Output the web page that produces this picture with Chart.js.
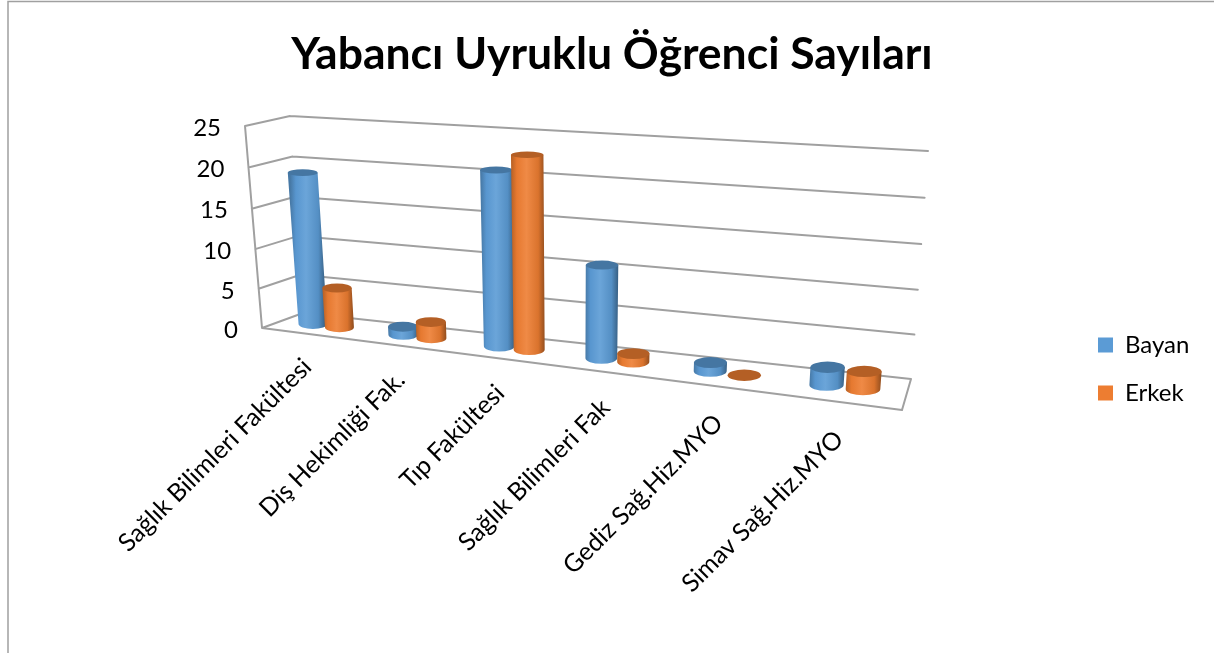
<!DOCTYPE html>
<html lang="tr">
<head>
<meta charset="utf-8">
<style>html,body{margin:0;padding:0;background:#fff}canvas{display:block}</style>
<script src="https://cdn.jsdelivr.net/npm/chart.js@4/dist/chart.umd.min.js"></script>
</head>
<body>
<canvas id="c" width="1214" height="653"></canvas>
<script>
const categories = ["Sağlık Bilimleri Fakültesi","Diş Hekimliği Fak.","Tıp Fakültesi","Sağlık Bilimleri Fak","Gediz Sağ.Hiz.MYO","Simav Sağ.Hiz.MYO"];
const bayan = [19,1,21,11,1,2];
const erkek = [5,2,23,1,0,2];
const chartTitle = "Yabancı Uyruklu Öğrenci Sayıları";
const seriesNames = ["Bayan","Erkek"];
const seriesColors = ["#5b9bd5","#ed7d31"];

const FONT = "Lato, Carlito, sans-serif";
const GRID = "#a0a0a0";
// 3D box of the plot: front/back, left/right, floor(0)/top(1)
const BOX = {fl0:[262,328],fl1:[245,126],bl0:[303,313],bl1:[290,116],
             fr0:[902,410],fr1:[920,173],br0:[911,379],br1:[928,151]};
const PERSP = 1.21;
let activeChart = null;
const mix = (a,b,k)=>a+(b-a)*k;
const mix2 = (p,q,k)=>[mix(p[0],q[0],k),mix(p[1],q[1],k)];
function project(t,v,d){
  const L = mix2(mix2(BOX.fl0,BOX.fl1,v),mix2(BOX.bl0,BOX.bl1,v),d);
  const R = mix2(mix2(BOX.fr0,BOX.fr1,v),mix2(BOX.br0,BOX.br1,v),d);
  const s = t/(t+(1-t)*PERSP);
  const p = mix2(L,R,s);
  return [p[0],p[1]+2*Math.sin(Math.PI*v)];
}
function shade(hex,f){
  const n=parseInt(hex.slice(1),16);
  const c=[n>>16&255,n>>8&255,n&255].map(x=>Math.max(0,Math.min(255,Math.round(f>1?x+(255-x)*(f-1):x*f))));
  return `rgb(${c[0]},${c[1]},${c[2]})`;
}
function unit(chart,px,py){
  const a=chart.chartArea;
  return [(px-a.left)/(a.right-a.left),(a.bottom-py)/(a.bottom-a.top)];
}

// cylinders: each bar element is drawn from its own scale-derived x / y / base / width
Chart.BarElement.prototype.draw = function(ctx){
  const {x,y,width} = this.getProps(['x','y','width'],false);
  const chart = activeChart;
  const col = this.options.backgroundColor;
  const [t,v] = unit(chart,x,y);
  const dt = (width/2)/(chart.chartArea.right-chart.chartArea.left);
  const grow = 1.1-.17*t;
  const rxAt = vv => (project(t+dt,vv,.5)[0]-project(t-dt,vv,.5)[0])/2*grow;
  const B = project(t,0,.5), T = project(t,v,.5);
  const rb = rxAt(0), rt = rxAt(v);
  const ryb = rb*.34, ryt = rt*(.34-.15*v);
  ctx.save();
  if(v>0){
    const lean=(B[0]+T[0])/2, r=Math.max(rb,rt)+Math.abs(B[0]-T[0])/4;
    const g=ctx.createLinearGradient(lean-r,0,lean+r,0);
    g.addColorStop(0,shade(col,.78));
    g.addColorStop(.16,shade(col,.97));
    g.addColorStop(.45,shade(col,1.1));
    g.addColorStop(.8,shade(col,.92));
    g.addColorStop(1,shade(col,.62));
    ctx.fillStyle=g;
    ctx.beginPath();
    ctx.moveTo(T[0]-rt,T[1]);
    ctx.lineTo(B[0]-rb,B[1]);
    ctx.ellipse(B[0],B[1],rb,ryb,0,Math.PI,0,true);
    ctx.lineTo(T[0]+rt,T[1]);
    ctx.closePath();
    ctx.fill();
  }
  ctx.fillStyle=shade(col,.76);
  ctx.beginPath();
  ctx.ellipse(T[0],T[1],rt,ryt,0,0,Math.PI*2);
  ctx.fill();
  ctx.restore();
};

class SlantCategory extends Chart.CategoryScale{
  _computeLabelItems(ca){
    const items=super._computeLabelItems(ca);
    const a=this.chart.chartArea;
    items.forEach((it,i)=>{
      const t=(this.getPixelForTick(i)-a.left)/(a.right-a.left);
      const p=project(t,0,0);
      it.options.translation=[p[0]-10,p[1]+18+5*t];
    });
    return items;
  }
}
SlantCategory.id='slantCategory';
SlantCategory.defaults=Chart.CategoryScale.defaults;

class SlantLinear extends Chart.LinearScale{
  _computeLabelItems(ca){
    const items=super._computeLabelItems(ca);
    const a=this.chart.chartArea;
    items.forEach((it,i)=>{
      const v=(a.bottom-this.getPixelForTick(i))/(a.bottom-a.top);
      const p=project(0,v,0);
      it.options.translation=[p[0]-24,p[1]+2];
    });
    return items;
  }
}
SlantLinear.id='slantLinear';
SlantLinear.defaults=Chart.LinearScale.defaults;
Chart.register(SlantCategory,SlantLinear);

const frame3d={
  id:'frame3d',
  beforeLayout(chart){
    const lg=chart.legend;
    if(lg && !lg.__wrapped){
      const f=lg.fit;
      lg.fit=function(){f.call(this);this.width=312;};
      lg.__wrapped=true;
    }
  },
  afterLayout(chart){
    const lg=chart.legend;
    lg.left=1074;lg.right=1214;lg.top=309;lg.bottom=640;
    chart.titleBlock.left=10;chart.titleBlock.right=1214;
  },
  beforeDraw(chart){
    const c=chart.ctx;
    c.save();
    c.strokeStyle=GRID;c.lineWidth=1.5;
    c.beginPath();c.moveTo(8,653);c.lineTo(8,1.5);c.lineTo(1214,1.5);c.stroke();
    c.restore();
  },
  beforeDatasetsDraw(chart){
    activeChart=chart;
    const c=chart.ctx, ys=chart.scales.y;
    const seg=(a,b)=>{c.moveTo(a[0],a[1]);c.lineTo(b[0],b[1]);};
    c.save();
    c.strokeStyle=GRID;c.lineWidth=2;c.lineCap='round';c.beginPath();
    ys.ticks.forEach(tk=>{
      const v=(tk.value-ys.min)/(ys.max-ys.min);
      seg(project(0,v,0),project(0,v,1));
      seg(project(0,v,1),project(1,v,1));
    });
    seg(project(0,0,0),project(0,1,0));
    seg(project(0,0,0),project(1,0,0));
    seg(project(1,0,0),project(1,0,1));
    c.stroke();
    c.restore();
    // left series first so that the right-hand cylinder of each pair overlaps it
    chart.data.datasets.forEach((d,i)=>chart.getDatasetMeta(i).controller.draw());
    return false;
  }
};

new Chart(document.getElementById('c'),{
  type:'bar',
  data:{labels:categories,datasets:[
    {label:seriesNames[0],data:bayan,backgroundColor:seriesColors[0]},
    {label:seriesNames[1],data:erkek,backgroundColor:seriesColors[1]}
  ]},
  plugins:[frame3d],
  options:{
    responsive:false,animation:false,
    layout:{padding:0},
    datasets:{bar:{categoryPercentage:.6,barPercentage:1}},
    scales:{
      x:{type:'slantCategory',grid:{display:false},border:{display:false},
         afterFit(s){s.height=325;},
         ticks:{autoSkip:false,minRotation:45,maxRotation:45,color:'#000',font:{family:FONT,size:25}}},
      y:{type:'slantLinear',min:0,max:25,grid:{display:false},border:{display:false},
         afterFit(s){s.width=262;},
         ticks:{stepSize:5,color:'#000',font:{family:FONT,size:24}}}
    },
    plugins:{
      tooltip:{enabled:false},
      title:{display:true,text:chartTitle,color:'#000',
        font:{family:FONT,size:44.5,weight:'bold'},padding:{top:28,bottom:44.6}},
      legend:{display:true,position:'right',align:'start',
        labels:{boxWidth:15,boxHeight:15,padding:24,color:'#000',font:{family:FONT,size:24}}}
    }
  }
});
</script>
</body>
</html>
